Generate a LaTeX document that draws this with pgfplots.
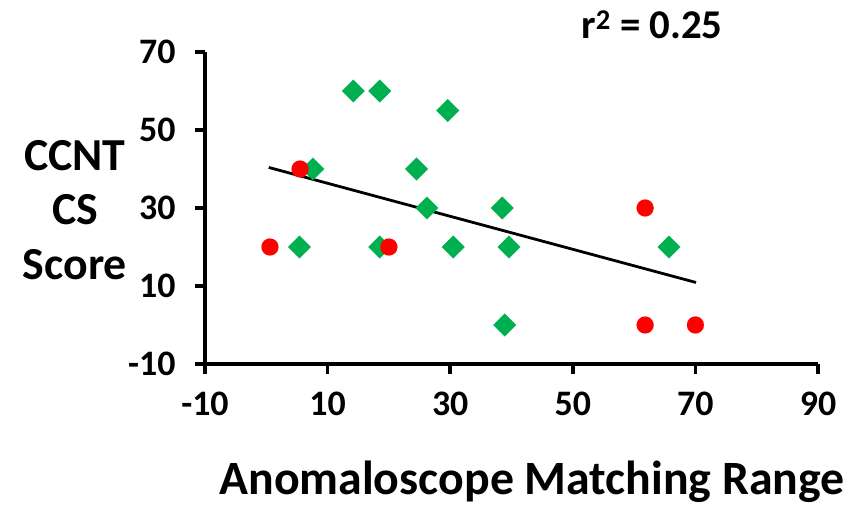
\documentclass[border=0pt]{standalone}
\usepackage{pgfplots}
\pgfplotsset{compat=1.18}
\usepackage{fontspec}
\setmainfont{Carlito}
\definecolor{xlgreen}{RGB}{0,176,80}
\definecolor{xlred}{RGB}{255,0,0}
\begin{document}
\begin{tikzpicture}[x=1bp,y=1bp]
\path[use as bounding box] (-205,-142) rectangle (646,364);
\begin{axis}[at={(0,0)},anchor=south west, scale only axis,
  width=613bp, height=312bp,
  xmin=-10,xmax=90,ymin=-10,ymax=70,
  xtick={-10,10,...,90}, ytick={-10,10,...,70},
  axis lines*=left,
  axis line style={line width=3.5bp},
  tick style={line width=3.5bp,black},
  major tick length=10bp, tick align=outside,
  every tick label/.append style={font=\fontsize{36}{36}\selectfont\bfseries},
  xticklabel style={anchor=north, yshift=-14bp},
  yticklabel style={anchor=east, xshift=-16bp},
  /pgf/number format/assume math mode=true,
  clip=false]
\addplot[only marks, mark=square*, mark size=8bp,
  mark options={rotate=45, fill=xlgreen, draw=xlgreen, line width=0.1bp}] coordinates {
  (5.4,20) (7.6,40) (14.2,60) (18.5,60) (18.5,20) (29.6,55) (24.5,40)
  (26.2,30) (30.5,20) (38.5,30) (39.6,20) (38.9,0) (65.7,20)};
\addplot[only marks, mark=*, mark size=8.5bp,
  mark options={fill=xlred, draw=xlred, line width=0.1bp}] coordinates {
  (0.6,20) (5.5,40) (20.0,20) (61.8,30) (61.8,0) (70.0,0)};
\addplot[black, line width=2.8bp, no marks] coordinates {(0.4,40.4) (70.1,10.9)};
\end{axis}
\node[align=center, font=\fontsize{46}{55}\selectfont\bfseries] at (-130,154) {CCNT\\CS\\Score};
\node[font=\fontsize{48}{48}\selectfont\bfseries] at (327,-118) {Anomaloscope Matching Range};
\node[font=\fontsize{41}{41}\selectfont\bfseries] at (447,339) {r\textsuperscript{2} = 0.25};
\end{tikzpicture}
\end{document}
